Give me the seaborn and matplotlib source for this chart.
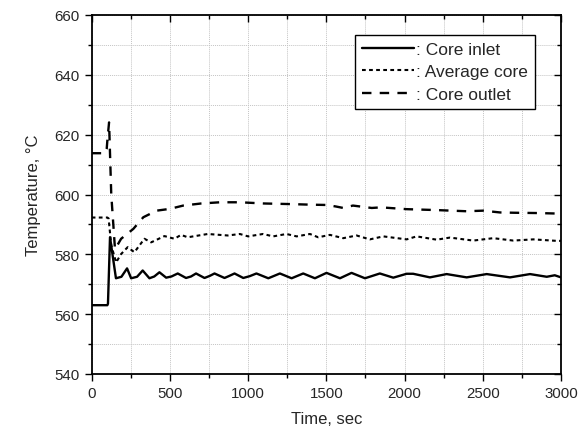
import numpy as np
import pandas as pd
import matplotlib
matplotlib.use("Agg")
import matplotlib.pyplot as plt
import seaborn as sns
from matplotlib.ticker import MultipleLocator

# ---- data ----
inlet_t = [0, 100, 104, 117, 155, 190, 226, 252, 290, 326, 369, 400, 433, 476, 510, 550,
           603, 635, 667, 721, 755, 785, 849, 880, 913, 969, 1010, 1053, 1129, 1203, 1278,
           1352, 1427, 1501, 1587, 1661, 1747, 1842, 1928, 2013, 2055, 2162, 2269, 2397,
           2525, 2674, 2802, 2909, 2960, 3000]
inlet_v = [563.0, 563.0, 563.5, 585.7, 572.0, 572.5, 575.3, 572.0, 572.5, 574.6, 572.0, 572.6,
           574.0, 572.2, 572.6, 573.6, 572.1, 572.6, 573.6, 572.1, 572.8, 573.6, 572.1, 572.8,
           573.6, 572.1, 572.7, 573.6, 572.0, 573.6, 572.0, 573.6, 572.0, 573.8, 572.0, 573.8,
           572.0, 573.6, 572.2, 573.5, 573.5, 572.3, 573.4, 572.3, 573.4, 572.3, 573.4, 572.5,
           573.0, 572.3]

avg_t = [0, 100, 108, 125, 156, 188, 230, 273, 337, 380, 465, 529, 571, 614, 742, 870, 947,
         1000, 1095, 1160, 1245, 1310, 1395, 1448, 1523, 1608, 1693, 1778, 1864, 2013, 2077,
         2205, 2290, 2439, 2567, 2695, 2823, 2973, 3000]
avg_v = [592.3, 592.3, 592.0, 583.0, 577.3, 580.1, 582.4, 580.7, 585.2, 584.0, 586.1, 585.2,
         586.5, 585.7, 586.8, 586.3, 586.8, 586.0, 586.8, 586.0, 586.8, 586.0, 586.8, 585.7,
         586.5, 585.4, 586.3, 585.0, 586.0, 585.0, 586.0, 584.9, 585.6, 584.6, 585.4, 584.6,
         585.0, 584.5, 584.5]

outlet_t = [0, 85, 96, 100, 111, 125, 149, 188, 266, 330, 415, 500, 585, 700, 820, 947, 1100,
            1267, 1400, 1501, 1560, 1608, 1670, 1790, 1850, 2013, 2200, 2397, 2503, 2610,
            2700, 2850, 3000]
outlet_v = [613.8, 613.8, 615.3, 618.0, 624.1, 600.0, 581.7, 585.2, 588.5, 592.4, 594.6, 595.2,
            596.3, 597.0, 597.4, 597.4, 597.0, 596.8, 596.6, 596.5, 596.0, 595.5, 596.3, 595.5,
            595.7, 595.1, 594.8, 594.4, 594.6, 594.0, 593.9, 593.8, 593.6]

labels = [": Core inlet", ": Average core", ": Core outlet"]
x_ticks = [0, 500, 1000, 1500, 2000, 2500, 3000]
y_ticks = [540, 560, 580, 600, 620, 640, 660]

df = pd.concat([
    pd.DataFrame({"t": inlet_t, "T": inlet_v, "s": labels[0]}),
    pd.DataFrame({"t": avg_t, "T": avg_v, "s": labels[1]}),
    pd.DataFrame({"t": outlet_t, "T": outlet_v, "s": labels[2]}),
])

sns.set_style("ticks")
plt.rcParams["font.family"] = ["Liberation Sans", "DejaVu Sans"]

fig = plt.figure(figsize=(5.78, 4.35), dpi=100)
ax = fig.add_axes([91.7 / 578, 1 - 375 / 435, (561 - 91.7) / 578, (375 - 16) / 435])

styles = {
    labels[0]: dict(linestyle="-", lw=1.7),
    labels[1]: dict(linestyle=(0, (1.8, 1.6)), lw=1.5),
    labels[2]: dict(linestyle=(0, (4.0, 3.5)), lw=1.7),
}
for lab in labels:
    sub = df[df["s"] == lab]
    sns.lineplot(data=sub, x="t", y="T", ax=ax, color="black", label=lab,
                 estimator=None, sort=False, **styles[lab])

ax.set_xlim(0, 3000)
ax.set_ylim(540, 660)
ax.set_xticks(x_ticks)
ax.set_yticks(y_ticks)
ax.xaxis.set_minor_locator(MultipleLocator(250))
ax.yaxis.set_minor_locator(MultipleLocator(10))
ax.grid(True, which="both", color="#c4c4c4", linestyle=(0, (1, 1)), lw=0.7)
ax.set_axisbelow(True)

for sp in ax.spines.values():
    sp.set_visible(True)
    sp.set_linewidth(1.3)
    sp.set_color("black")

ax.tick_params(which="both", direction="out", top=True, right=True, labelsize=10.8,
               color="black", width=1.0)
ax.tick_params(which="major", length=5)
ax.tick_params(which="minor", length=3)
# top/right ticks point inward
for t in ax.xaxis.get_major_ticks() + ax.xaxis.get_minor_ticks():
    t.tick2line.set_marker(3)
for t in ax.yaxis.get_major_ticks() + ax.yaxis.get_minor_ticks():
    t.tick2line.set_marker(0)

ax.set_xlabel("Time, sec", fontsize=12, labelpad=8)
ax.set_ylabel("Temperature, °C", fontsize=12, labelpad=10)

leg = ax.legend(loc="upper right", bbox_to_anchor=(0.945, 0.945), borderaxespad=0,
                fontsize=12.5, handlelength=3.0, handletextpad=0.15, frameon=True,
                fancybox=False, edgecolor="black", framealpha=1, borderpad=0.4,
                labelspacing=0.42)
leg.get_frame().set_linewidth(1.0)

fig.savefig("out.png", dpi=100)
